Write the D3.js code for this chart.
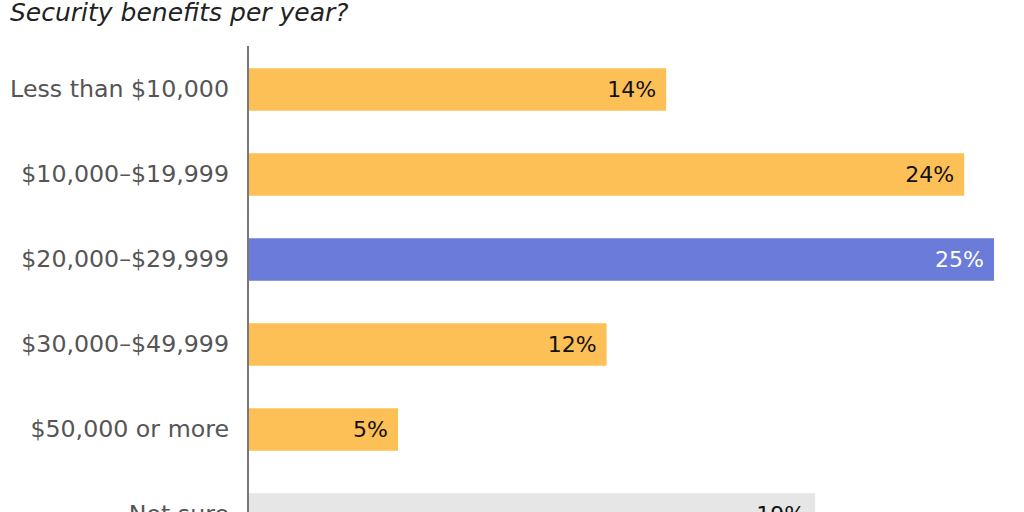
<!DOCTYPE html>
<html><head><meta charset="utf-8">
<script src="https://cdn.jsdelivr.net/npm/d3@7"></script>
<style>html,body{margin:0;padding:0;background:#fff;overflow:hidden}</style>
</head><body>
<svg id="c" width="1024" height="512"></svg>
<script>
const categories = ["Less than $10,000","$10,000–$19,999","$20,000–$29,999","$30,000–$49,999","$50,000 or more","Not sure"];
const values = [14,24,25,12,5,19];
const barColors = ["#FDC057","#FDC057","#6A7BD9","#FDC057","#FDC057","#E6E6E6"];
const labelColors = ["#111","#111","#fff","#111","#111","#111"];
const title = "Security benefits per year?";

const svg = d3.select("#c");
const font = "'DejaVu Sans', sans-serif";
const x = d3.scaleLinear().domain([0,25]).range([249,994]);
const y = d3.scaleBand().domain(categories).range([47,557]).paddingInner(0.5).paddingOuter(0.25);

svg.append("text").attr("x",10).attr("y",21).attr("font-family",font).attr("font-style","italic")
  .attr("font-size",25).attr("fill","#222").text(title);

svg.selectAll("rect.bar").data(values).join("rect").attr("class","bar")
  .attr("x",x(0)).attr("y",(d,i)=>y(categories[i])).attr("width",d=>x(d)-x(0))
  .attr("height",y.bandwidth()).attr("fill",(d,i)=>barColors[i]);

svg.selectAll("text.val").data(values).join("text").attr("class","val")
  .attr("x",d=>x(d)-10).attr("y",(d,i)=>y(categories[i])+y.bandwidth()/2)
  .attr("dy","0.35em").attr("text-anchor","end").attr("font-family",font).attr("font-size",22)
  .attr("fill",(d,i)=>labelColors[i]).text(d=>d+"%");

const ax = svg.append("g").attr("transform",`translate(${x(0)-1},0)`)
  .call(d3.axisLeft(y).tickSize(0).tickPadding(19));
ax.select(".domain").attr("stroke","#777").attr("stroke-width",2).attr("d","M0,46V600");
ax.selectAll("text").attr("font-family",font).attr("font-size",23.7).attr("fill","#555");
</script>
</body></html>
